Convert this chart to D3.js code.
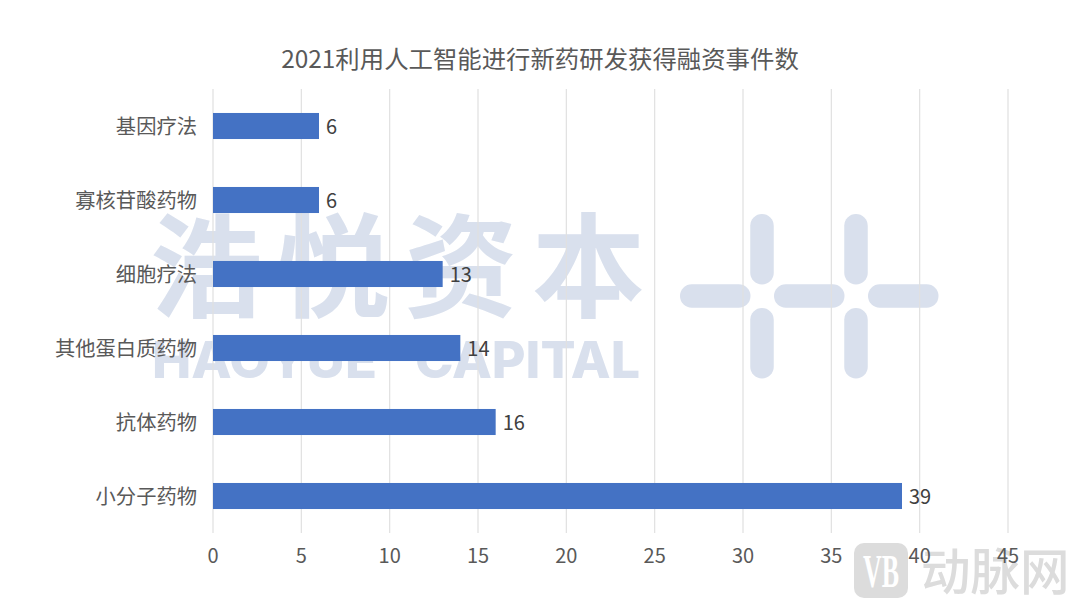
<!DOCTYPE html>
<html><head><meta charset="utf-8">
<script src="https://cdn.jsdelivr.net/npm/d3@7"></script>
<style>html,body{margin:0;padding:0;background:#fff}svg{display:block}text{font-family:"Noto Sans CJK SC","Noto Sans",sans-serif}</style>
</head><body><svg id="c" width="1080" height="608"></svg>
<script>
const titleText = "2021利用人工智能进行新药研发获得融资事件数";
const categories = ["基因疗法","寡核苷酸药物","细胞疗法","其他蛋白质药物","抗体药物","小分子药物"];
const values = [6,6,13,14,16,39];
const xTicks = [0,5,10,15,20,25,30,35,40,45];
const wmChars = ["浩","悦","资","本"];
const wmWords = ["HAOYUE","CAPITAL"];
const wmColor = "#d9e0ed";

const svg = d3.select("#c");
svg.append("rect").attr("width",1080).attr("height",608).attr("fill","#fff");
const x = d3.scaleLinear().domain([0,45]).range([213,1008]);
const y = d3.scaleBand().domain(categories).range([89,533]).paddingInner(0.648).paddingOuter(0.324);

// watermark
const wm = svg.append("g");
wm.selectAll("text.c").data(wmChars).join("text").attr("class","c")
  .attr("x",(d,i)=>206+i*127.5).attr("y",308).attr("text-anchor","middle")
  .attr("font-size",113).attr("font-weight",700).attr("fill",wmColor).text(d=>d);
wm.selectAll("text.l").data(wmWords).join("text").attr("class","l")
  .attr("x",(d,i)=>[152,415][i]).attr("y",378).attr("font-size",51).attr("font-weight",800)
  .style("font-family","Inter").attr("fill",wmColor)
  .attr("textLength",(d,i)=>[225,225][i]).attr("lengthAdjust","spacingAndGlyphs").text(d=>d);
const pl = wm.append("g").attr("fill",wmColor);
[762,856].forEach(cx=>{[214,308].forEach(ty=>{
  pl.append("rect").attr("x",cx-11.75).attr("y",ty).attr("width",23.5).attr("height",70.5).attr("rx",11.75);
});});
[680,774,868].forEach(lx=>{
  pl.append("rect").attr("x",lx).attr("y",284.25).attr("width",70.5).attr("height",23.5).attr("rx",11.75);
});

// logo bottom right
const lg = svg.append("g");
lg.append("rect").attr("x",854).attr("y",543).attr("width",54).attr("height",55).attr("rx",10).attr("fill","#dcdcdc");
lg.append("text").attr("x",863).attr("y",587).attr("font-size",46).attr("font-weight",700)
  .style("font-family","'Liberation Serif'").attr("fill","#fff").attr("textLength",36).attr("lengthAdjust","spacingAndGlyphs").text("VB");
lg.append("text").attr("x",921).attr("y",590).attr("font-size",49.5).attr("font-weight",500).attr("fill","#dcdcdc").text("动脉网");

// grid
svg.append("g").selectAll("line").data(xTicks).join("line")
  .attr("x1",d=>x(d)).attr("x2",d=>x(d)).attr("y1",89).attr("y2",533)
  .attr("stroke","#e0e0e0").attr("stroke-width",1.2);

// bars
svg.append("g").selectAll("rect").data(values).join("rect")
  .attr("x",x(0)).attr("y",(d,i)=>y(categories[i])).attr("width",d=>x(d)-x(0)).attr("height",y.bandwidth())
  .attr("fill","#4472c4");

// values
svg.append("g").selectAll("text").data(values).join("text")
  .attr("x",d=>x(d)+7).attr("y",(d,i)=>y(categories[i])+y.bandwidth()/2+7.5)
  .attr("font-size",20).attr("fill","#404040").text(d=>d);

// category labels
svg.append("g").selectAll("text").data(categories).join("text")
  .attr("x",197).attr("y",d=>y(d)+y.bandwidth()/2+7.5).attr("text-anchor","end")
  .attr("font-size",20.3).attr("fill","#595959").text(d=>d);

// x ticks
svg.append("g").selectAll("text").data(xTicks).join("text")
  .attr("x",d=>x(d)).attr("y",563).attr("text-anchor","middle")
  .attr("font-size",20).attr("fill","#595959").text(d=>d);

svg.append("text").attr("x",540).attr("y",68).attr("text-anchor","middle")
  .attr("font-size",24.4).attr("fill","#595959").text(titleText);
</script></body></html>
